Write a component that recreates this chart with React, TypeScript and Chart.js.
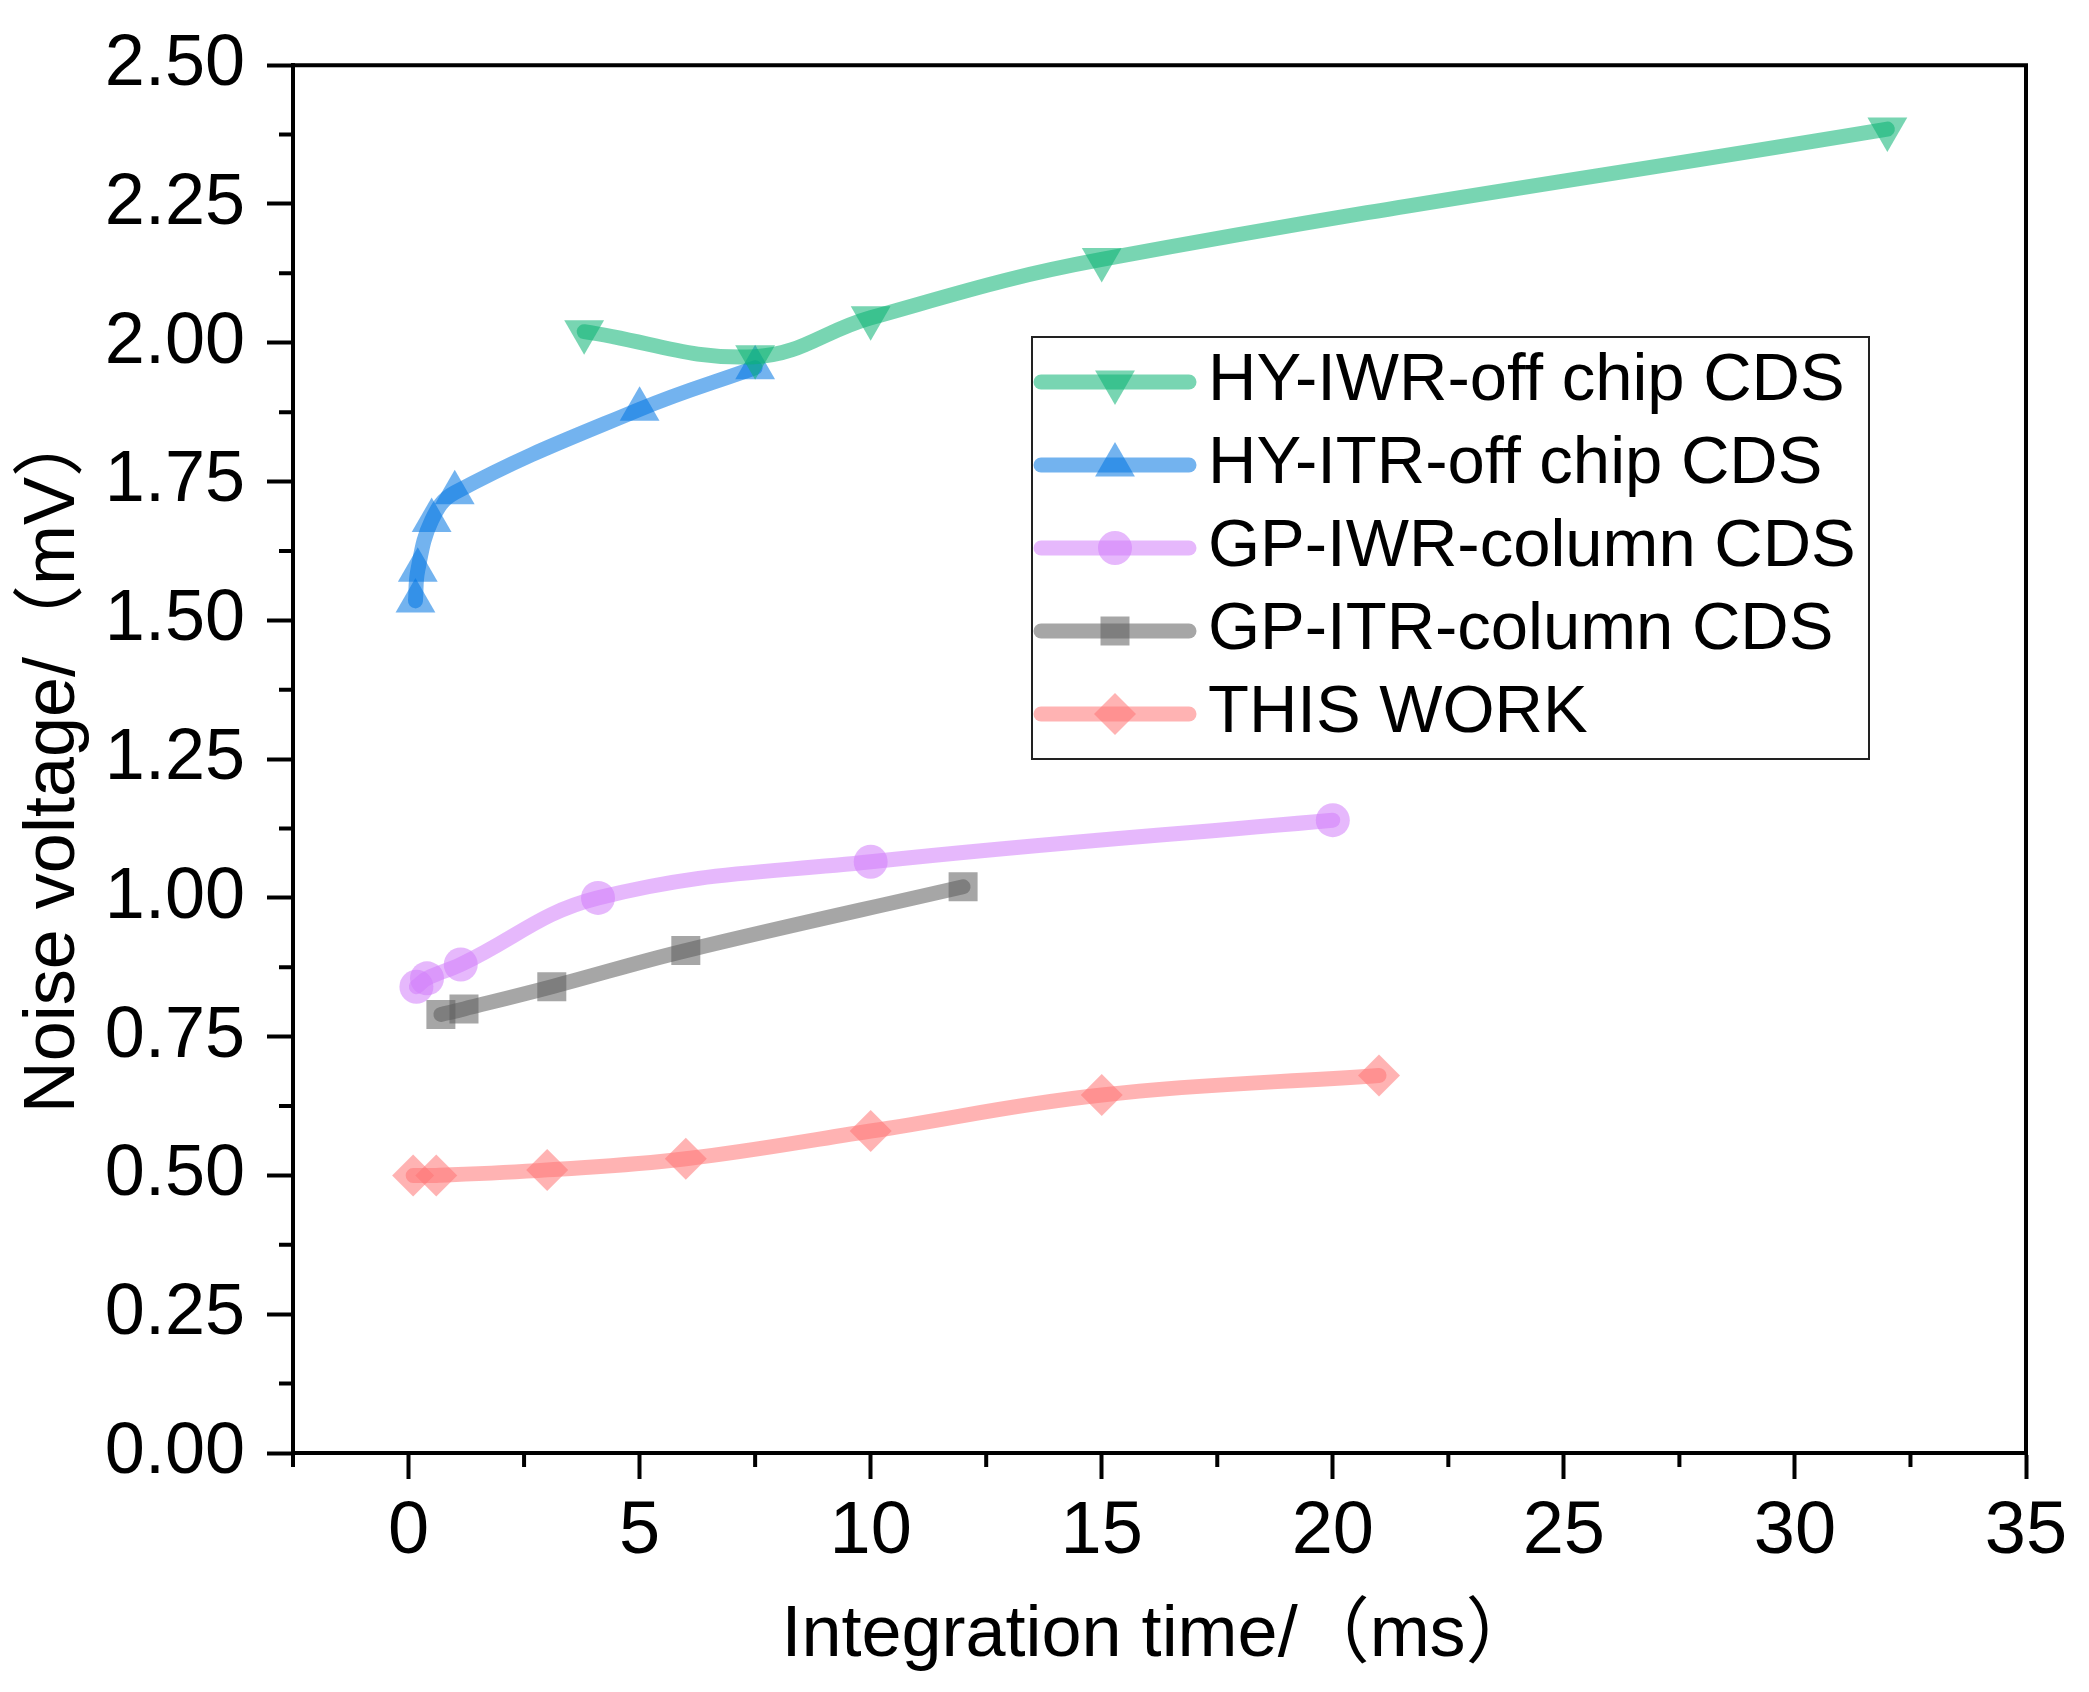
import { useEffect, useRef } from "react";
import { Chart, registerables } from "chart.js";
import { drawPoint } from "chart.js/helpers";

Chart.register(...registerables);

const FONT = "'Liberation Sans', Arial, 'Noto Sans CJK SC', sans-serif";

// series (integration time in ms, noise voltage in mV)
const seriesNames = [
  "HY-IWR-off chip CDS",
  "HY-ITR-off chip CDS",
  "GP-IWR-column CDS",
  "GP-ITR-column CDS",
  "THIS WORK",
];
const hyIwrTime = [3.8, 7.5, 10, 15, 32];
const hyIwrNoise = [2.02, 1.975, 2.045, 2.15, 2.385];
const hyItrTime = [0.15, 0.2, 0.5, 1.0, 5.0, 7.5];
const hyItrNoise = [1.535, 1.59, 1.68, 1.73, 1.88, 1.955];
const gpIwrTime = [0.17, 0.4, 1.13, 4.1, 10, 20];
const gpIwrNoise = [0.84, 0.855, 0.88, 1.0, 1.065, 1.14];
const gpItrTime = [0.7, 1.2, 3.1, 6, 12];
const gpItrNoise = [0.79, 0.8, 0.84, 0.905, 1.02];
const thisWorkTime = [0.1, 0.6, 3, 6, 10, 15, 21];
const thisWorkNoise = [0.5, 0.5, 0.51, 0.53, 0.58, 0.645, 0.68];

// axes
const xMajorTicks = [0, 5, 10, 15, 20, 25, 30, 35];
const xMinorTicks = [-2.5, 2.5, 7.5, 12.5, 17.5, 22.5, 27.5, 32.5];
const yMajorTicks = [0, 0.25, 0.5, 0.75, 1.0, 1.25, 1.5, 1.75, 2.0, 2.25, 2.5];
const yMinorTicks = [0.125, 0.375, 0.625, 0.875, 1.125, 1.375, 1.625, 1.875, 2.125, 2.375];

const toPoints = (xs: number[], ys: number[]) => xs.map((x, i) => ({ x, y: ys[i] }));

const makeSeries = (
  label: string,
  data: { x: number; y: number }[],
  color: string,
  pointStyle: string,
  radius: number,
  rotation = 0
) => ({
  label,
  data,
  borderColor: color,
  backgroundColor: color,
  pointBackgroundColor: color,
  pointBorderWidth: 0,
  pointStyle,
  pointRadius: radius,
  pointRotation: rotation,
  borderWidth: 15,
  borderCapStyle: "round",
  borderJoinStyle: "round",
  tension: 0.4,
  showLine: true,
});

const frameAndMinorTicks = {
  id: "frameAndMinorTicks",
  afterDraw(chart: any) {
    const { ctx, chartArea: a, scales } = chart;
    ctx.save();
    ctx.strokeStyle = "#000";
    ctx.lineWidth = 4;
    ctx.beginPath();
    ctx.moveTo(a.left - 2, a.top);
    ctx.lineTo(a.right, a.top);
    ctx.lineTo(a.right, a.bottom + 2);
    ctx.stroke();
    ctx.beginPath();
    xMinorTicks.forEach((v) => {
      const px = scales.x.getPixelForValue(v);
      ctx.moveTo(px, a.bottom);
      ctx.lineTo(px, a.bottom + 14);
    });
    yMinorTicks.forEach((v) => {
      const py = scales.y.getPixelForValue(v);
      ctx.moveTo(a.left, py);
      ctx.lineTo(a.left - 14, py);
    });
    ctx.stroke();
    ctx.restore();
  },
};

const boxLegend = {
  id: "boxLegend",
  afterDraw(chart: any) {
    const { ctx } = chart;
    const left = 1032;
    const top = 337;
    const width = 837;
    const height = 422;
    const firstRow = 382;
    const rowGap = 83;
    ctx.save();
    ctx.fillStyle = "#fff";
    ctx.fillRect(left, top, width, height);
    ctx.strokeStyle = "#222";
    ctx.lineWidth = 2;
    ctx.strokeRect(left, top, width, height);
    chart.data.datasets.forEach((ds: any, i: number) => {
      const y = firstRow + i * rowGap;
      ctx.strokeStyle = ds.borderColor;
      ctx.lineWidth = 15;
      ctx.lineCap = "round";
      ctx.beginPath();
      ctx.moveTo(left + 9, y);
      ctx.lineTo(left + 157, y);
      ctx.stroke();
      ctx.fillStyle = ds.pointBackgroundColor;
      drawPoint(
        ctx,
        { pointStyle: ds.pointStyle, rotation: ds.pointRotation, radius: ds.pointRadius, borderWidth: 0 } as any,
        left + 83,
        y
      );
      ctx.fillStyle = "#000";
      ctx.font = `67px ${FONT}`;
      ctx.textBaseline = "middle";
      ctx.textAlign = "left";
      ctx.fillText(ds.label, left + 176, y);
    });
    ctx.restore();
  },
};

export default function App() {
  const chartRef = useRef<HTMLCanvasElement>(null);
  const chartInstance = useRef<Chart | null>(null);

  useEffect(() => {
    if (!chartRef.current) return;
    if (chartInstance.current) chartInstance.current.destroy();
    const ctx = chartRef.current.getContext("2d");
    if (!ctx) return;

    chartInstance.current = new Chart(ctx, {
      type: "scatter",
      data: {
        datasets: [
          makeSeries(seriesNames[0], toPoints(hyIwrTime, hyIwrNoise), "rgba(10,179,115,0.55)", "triangle", 23, 180),
          makeSeries(seriesNames[1], toPoints(hyItrTime, hyItrNoise), "rgba(0,117,226,0.55)", "triangle", 23),
          makeSeries(seriesNames[2], toPoints(gpIwrTime, gpIwrNoise), "rgba(210,126,250,0.55)", "circle", 17),
          makeSeries(seriesNames[3], toPoints(gpItrTime, gpItrNoise), "rgba(93,93,93,0.55)", "rect", 20.5),
          makeSeries(seriesNames[4], toPoints(thisWorkTime, thisWorkNoise), "rgba(255,117,117,0.55)", "rectRot", 21),
        ] as any,
      },
      options: {
        animation: false,
        responsive: true,
        maintainAspectRatio: false,
        layout: { padding: { top: 60, right: 63, left: 0, bottom: 0 } },
        scales: {
          x: {
            type: "linear",
            min: -2.5,
            max: 35,
            afterBuildTicks: (s: any) => {
              s.ticks = xMajorTicks.map((value) => ({ value }));
            },
            afterFit: (s: any) => {
              s.height = 239;
            },
            ticks: {
              autoSkip: false,
              maxRotation: 0,
              padding: 9,
              color: "#000",
              font: { family: FONT, size: 74 },
            },
            grid: { drawOnChartArea: false, tickLength: 26, tickWidth: 4, tickColor: "#000" },
            border: { display: true, color: "#000", width: 4 },
            title: {
              display: true,
              text: "Integration time/（ms）",
              color: "#000",
              font: { family: FONT, size: 72 },
              padding: { top: 0, bottom: 13 },
            },
          },
          y: {
            type: "linear",
            min: 0,
            max: 2.5,
            afterBuildTicks: (s: any) => {
              s.ticks = yMajorTicks.map((value) => ({ value }));
            },
            afterFit: (s: any) => {
              s.width = 293;
            },
            ticks: {
              padding: 22,
              color: "#000",
              font: { family: FONT, size: 72 },
              callback: (v: any) => Number(v).toFixed(2),
            },
            grid: { drawOnChartArea: false, tickLength: 26, tickWidth: 4, tickColor: "#000" },
            border: { display: true, color: "#000", width: 4 },
            title: {
              display: true,
              text: "Noise voltage/（mV）",
              color: "#000",
              font: { family: FONT, size: 72 },
              padding: { top: 11, bottom: 0 },
            },
          },
        },
        plugins: {
          legend: { display: false },
          tooltip: { enabled: false },
        },
      } as any,
      plugins: [frameAndMinorTicks, boxLegend],
    });

    return () => {
      if (chartInstance.current) {
        chartInstance.current.destroy();
        chartInstance.current = null;
      }
    };
  }, []);

  return (
    <div style={{ position: "absolute", left: 0, top: 0, width: 2089, height: 1692, background: "#fff" }}>
      <canvas ref={chartRef} />
    </div>
  );
}
